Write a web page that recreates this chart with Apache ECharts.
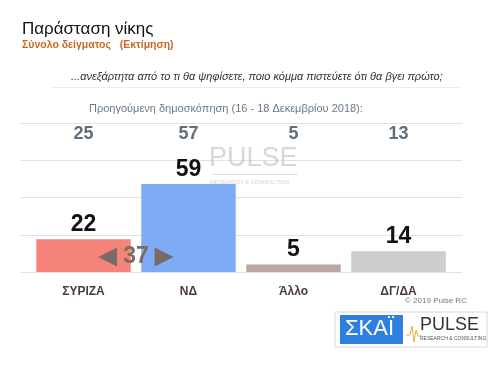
<!DOCTYPE html>
<html><head><meta charset="utf-8">
<script src="https://cdn.jsdelivr.net/npm/echarts@6/dist/echarts.min.js"></script>
<style>html,body{margin:0;padding:0;background:#fff}#c{width:501px;height:379px}</style>
</head><body><div id="c"></div>
<script>
const categories = ['ΣΥΡΙΖΑ', 'ΝΔ', 'Άλλο', 'ΔΓ/ΔΑ'];
const currentValues = [22, 59, 5, 14];
const previousValues = [25, 57, 5, 13];
const barColors = ['#f5837a', '#7eabf6', '#b9a7a1', '#cdcdcd'];
const yTicks = [0, 25, 50, 75, 100];

const F = "'Liberation Sans', Arial, sans-serif";
const chart = echarts.init(document.getElementById('c'), null, {renderer: 'canvas'});
const gap = currentValues[1] - currentValues[0];
const yMin = yTicks[0], yMax = yTicks[yTicks.length - 1], yStep = yTicks[1] - yTicks[0];

chart.setOption({
  animation: false,
  backgroundColor: '#fff',
  textStyle: {fontFamily: F},
  grid: [
    {left: 31, right: 50, top: 123, bottom: 107},
    {left: 20, right: 39, top: 123, bottom: 107}
  ],
  xAxis: [{
    type: 'category', data: categories, gridIndex: 0,
    axisLine: {show: false}, axisTick: {show: false},
    axisLabel: {color: '#4a3c36', fontWeight: 'bold', fontSize: 12, margin: 14, fontFamily: F}
  }, {
    type: 'category', data: categories, position: 'top', gridIndex: 0,
    axisLine: {show: false}, axisTick: {show: false},
    axisLabel: {inside: true, margin: 2, color: '#5f6f7c', fontWeight: 'bold', fontSize: 18, fontFamily: F,
      formatter: (v, i) => String(previousValues[i])}
  }, {
    type: 'category', data: categories, gridIndex: 1, show: false
  }],
  yAxis: [{
    type: 'value', gridIndex: 0, min: yMin, max: yMax, interval: yStep,
    axisLabel: {show: false}, axisLine: {show: false}, axisTick: {show: false},
    splitLine: {show: false}
  }, {
    type: 'value', gridIndex: 1, min: yMin, max: yMax, interval: yStep,
    axisLabel: {show: false}, axisLine: {show: false}, axisTick: {show: false},
    splitLine: {lineStyle: {color: '#e2e2e2'}}
  }],
  series: [{
    type: 'bar', xAxisIndex: 0, yAxisIndex: 0, barCategoryGap: '10%', z: 5,
    data: currentValues.map((v, i) => ({value: v, itemStyle: {color: barColors[i]}})),
    label: {show: true, position: 'top', distance: 3, color: '#111', fontWeight: 'bold', fontSize: 23, fontFamily: F}
  }],
  graphic: [
    {type: 'text', left: 22, top: 21, style: {text: 'Παράσταση νίκης', fill: '#111', font: "17px " + F}},
    {type: 'text', left: 22, top: 40, style: {text: 'Σύνολο δείγματος   (Εκτίμηση)', fill: '#c96a24', font: "bold 10.5px " + F}},
    {type: 'text', left: 71, top: 71, style: {text: '...ανεξάρτητα από το τι θα ψηφίσετε, ποιο κόμμα πιστεύετε ότι θα βγει πρώτο;', fill: '#333', font: "italic 11px " + F}},
    {type: 'rect', shape: {x: 50, y: 87, width: 412, height: 1}, style: {fill: '#ececec'}},
    {type: 'text', left: 89, top: 103, style: {text: 'Προηγούμενη δημοσκόπηση (16 - 18 Δεκεμβρίου 2018):', fill: '#6b7a88', font: "11px " + F}},
    {type: 'text', left: 209, top: 145, z: 1, style: {text: 'PULSE', fill: 'rgba(175,175,175,0.5)', font: "27px " + F, letterSpacing: 4}},
    {type: 'rect', shape: {x: 212, y: 174, width: 86, height: 1}, style: {fill: 'rgba(200,190,160,0.5)'}},
    {type: 'text', left: 210, top: 179, style: {text: 'RESEARCH & CONSULTING', fill: 'rgba(170,170,170,0.5)', font: "6px " + F}},
    {type: 'text', left: 405, top: 297, style: {text: '© 2019 Pulse RC', fill: '#777', font: "8px " + F}},
    {type: 'rect', shape: {x: 335, y: 312, width: 152, height: 35}, style: {fill: '#fff', stroke: '#d8d8d8', lineWidth: 1}},
    {type: 'rect', shape: {x: 340, y: 315, width: 63, height: 29}, style: {fill: '#2f7fe0'}},
    {type: 'text', left: 345, top: 318, style: {text: 'ΣΚΑΪ', fill: '#fff', font: "22px " + F, letterSpacing: 1}},
    {type: 'text', left: 420, top: 316, style: {text: 'PULSE', fill: '#333', font: "18px " + F, letterSpacing: 1}},
    {type: 'text', left: 420, top: 336, style: {text: 'RESEARCH & CONSULTING', fill: '#555', font: "5px " + F}},
    {type: 'polyline', shape: {points: [[406,335],[410,335],[412,326],[414,342],[416,330],[418,336],[422,336]]}, style: {stroke: '#e0b040', lineWidth: 1, fill: null}}
  ]
});

const p0 = chart.convertToPixel({xAxisIndex: 0, yAxisIndex: 0}, [0, 0]);
const p1 = chart.convertToPixel({xAxisIndex: 0, yAxisIndex: 0}, [1, 0]);
const mid = (p0[0] + p1[0]) / 2;
chart.setOption({graphic: [{
  id: 'gap', type: 'text', x: mid, y: 257, z: 100,
  style: {text: '◀ ' + gap + ' ▶', fill: '#7a6b63', font: "bold 23px " + F, align: 'center', verticalAlign: 'middle'}
}]});
</script></body></html>
